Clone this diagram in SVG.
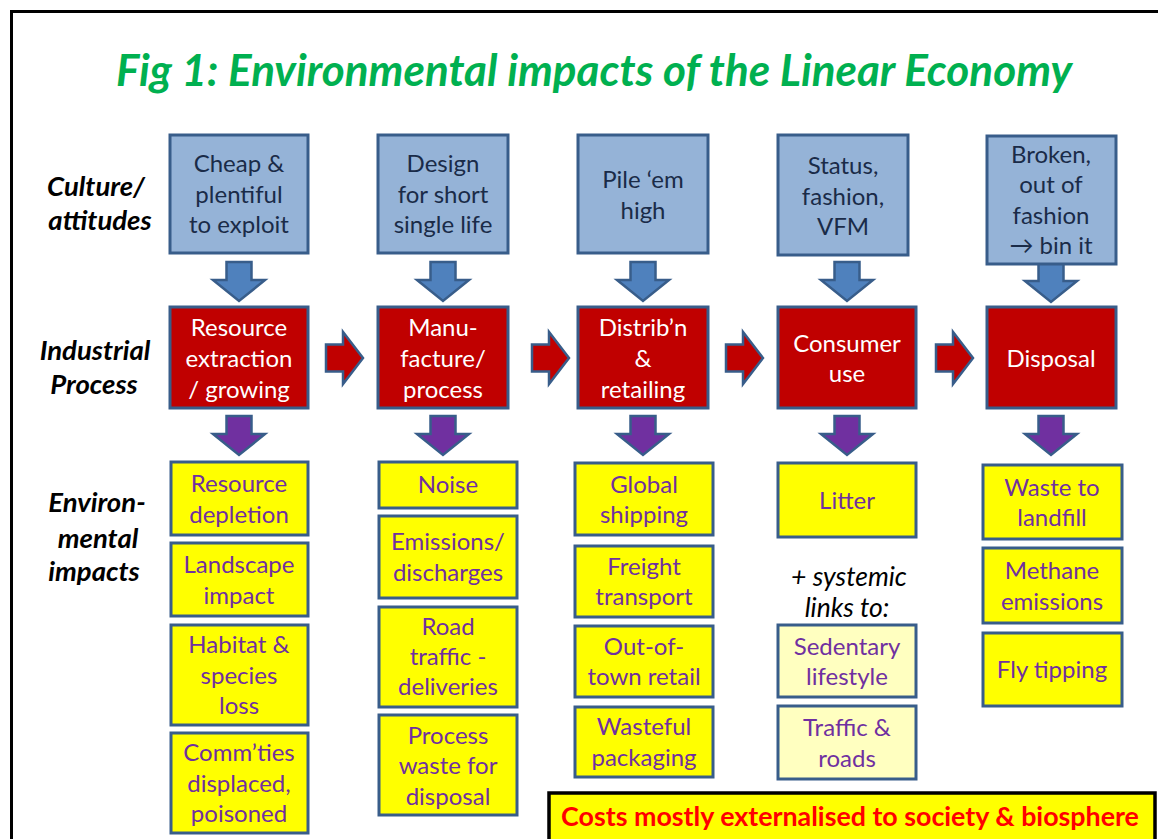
<svg xmlns="http://www.w3.org/2000/svg" width="1158" height="839" viewBox="0 0 1158 839">
<style>
text{font-family:Lato,"Liberation Sans",sans-serif;font-size:24px;text-anchor:middle}
.cul rect{fill:#95B3D7;stroke:#385D8A;stroke-width:3}
.cul text{fill:#1A2B48}
.ind rect{fill:#C00000;stroke:#385D8A;stroke-width:3}
.ind text{fill:#FFFFFF}
.env rect{fill:#FFFF00;stroke:#385D8A;stroke-width:3}
.env text{fill:#7030A0}
.env rect.lt{fill:#FFFFC0}
.lbl{font-weight:bold;font-style:italic;fill:#000;font-size:27.5px}
.ab{fill:#4F81BD;stroke:#385D8A;stroke-width:2.5;stroke-linejoin:miter}
.ap{fill:#7030A0;stroke:#385D8A;stroke-width:2.5}
.ar{fill:#C00000;stroke:#385D8A;stroke-width:2.5}
</style>
<defs>
<path id="down" d="M-12.5,0 H12.5 V18 H26 L0,39 L-26,18 H-12.5 Z"/>
<path id="right" d="M0,-13.5 H17 V-26 L37,0 L17,26 V13.5 H0 Z"/>
</defs>
<rect x="0" y="0" width="1158" height="839" fill="#FFFFFF"/>
<rect x="11.5" y="11.5" width="1160" height="840" fill="none" stroke="#000" stroke-width="3"/>
<text x="594" y="86" style="font-size:44px;font-weight:bold;font-style:italic;fill:#00B050">Fig 1: Environmental impacts of the Linear Economy</text>

<g id="row-labels">
<text class="lbl" x="96" y="196">Culture/</text>
<text class="lbl" x="100" y="230">attitudes</text>
<text class="lbl" x="95" y="360">Industrial</text>
<text class="lbl" x="94" y="394">Process</text>
<text class="lbl" x="97" y="512">Environ-</text>
<text class="lbl" x="98" y="548">mental</text>
<text class="lbl" x="94" y="581">impacts</text>
</g>

<g id="connectors">
<use href="#down" class="ab" x="239" y="262"/>
<use href="#down" class="ab" x="443" y="262"/>
<use href="#down" class="ab" x="643" y="262"/>
<use href="#down" class="ab" x="847" y="262"/>
<use href="#down" class="ab" x="1051" y="263"/>
<use href="#right" class="ar" x="326" y="358"/>
<use href="#right" class="ar" x="532" y="358"/>
<use href="#right" class="ar" x="726" y="358"/>
<use href="#right" class="ar" x="936" y="358"/>
<use href="#down" class="ap" x="239" y="416"/>
<use href="#down" class="ap" x="443" y="416"/>
<use href="#down" class="ap" x="643" y="416"/>
<use href="#down" class="ap" x="847" y="416"/>
<use href="#down" class="ap" x="1051" y="416"/>
</g>

<g id="culture-1" class="cul"><rect x="170" y="135" width="138" height="118"/><text x="239" y="172">Cheap &amp;</text><text x="239" y="203">plentiful</text><text x="239" y="233">to exploit</text></g>
<g id="culture-2" class="cul"><rect x="378" y="135" width="130" height="118"/><text x="443" y="172">Design</text><text x="443" y="203">for short</text><text x="443" y="233">single life</text></g>
<g id="culture-3" class="cul"><rect x="578" y="135" width="130" height="118"/><text x="643" y="188">Pile ‘em</text><text x="643" y="219">high</text></g>
<g id="culture-4" class="cul"><rect x="778" y="135" width="130" height="120"/><text x="843" y="174">Status,</text><text x="843" y="205">fashion,</text><text x="843" y="235">VFM</text></g>
<g id="culture-5" class="cul"><rect x="987" y="136" width="129" height="128"/><text x="1051" y="163">Broken,</text><text x="1051" y="193">out of</text><text x="1051" y="224">fashion</text><text x="1051" y="254">→ bin it</text></g>

<g id="process-1" class="ind"><rect x="170" y="307" width="138" height="101"/><text x="239" y="336">Resource</text><text x="239" y="367">extraction</text><text x="239" y="398">/ growing</text></g>
<g id="process-2" class="ind"><rect x="378" y="307" width="130" height="101"/><text x="443" y="336">Manu-</text><text x="443" y="367">facture/</text><text x="443" y="398">process</text></g>
<g id="process-3" class="ind"><rect x="578" y="307" width="130" height="101"/><text x="643" y="336">Distrib’n</text><text x="643" y="367">&amp;</text><text x="643" y="398">retailing</text></g>
<g id="process-4" class="ind"><rect x="778" y="307" width="138" height="101"/><text x="847" y="352">Consumer</text><text x="847" y="382">use</text></g>
<g id="process-5" class="ind"><rect x="987" y="307" width="129" height="101"/><text x="1051" y="367">Disposal</text></g>

<g id="env-1a" class="env"><rect x="171" y="462" width="137" height="73"/><text x="239" y="492">Resource</text><text x="239" y="523">depletion</text></g>
<g id="env-1b" class="env"><rect x="171" y="543" width="137" height="73"/><text x="239" y="573">Landscape</text><text x="239" y="604">impact</text></g>
<g id="env-1c" class="env"><rect x="171" y="625" width="137" height="100"/><text x="239" y="653">Habitat &amp;</text><text x="239" y="684">species</text><text x="239" y="714">loss</text></g>
<g id="env-1d" class="env"><rect x="171" y="733" width="137" height="100"/><text x="239" y="761">Comm’ties</text><text x="239" y="792">displaced,</text><text x="239" y="822">poisoned</text></g>

<g id="env-2a" class="env"><rect x="379" y="462" width="138" height="46"/><text x="448" y="493">Noise</text></g>
<g id="env-2b" class="env"><rect x="379" y="516" width="138" height="82"/><text x="448" y="550">Emissions/</text><text x="448" y="581">discharges</text></g>
<g id="env-2c" class="env"><rect x="379" y="607" width="138" height="100"/><text x="448" y="635">Road</text><text x="448" y="665">traffic -</text><text x="448" y="695">deliveries</text></g>
<g id="env-2d" class="env"><rect x="379" y="715" width="138" height="100"/><text x="448" y="744">Process</text><text x="448" y="774">waste for</text><text x="448" y="805">disposal</text></g>

<g id="env-3a" class="env"><rect x="575" y="463" width="138" height="72"/><text x="644" y="493">Global</text><text x="644" y="523">shipping</text></g>
<g id="env-3b" class="env"><rect x="575" y="546" width="138" height="71"/><text x="644" y="575">Freight</text><text x="644" y="605">transport</text></g>
<g id="env-3c" class="env"><rect x="575" y="626" width="138" height="71"/><text x="644" y="655">Out-of-</text><text x="644" y="685">town retail</text></g>
<g id="env-3d" class="env"><rect x="575" y="707" width="138" height="70"/><text x="644" y="735">Wasteful</text><text x="644" y="766">packaging</text></g>

<g id="env-4a" class="env"><rect x="778" y="463" width="138" height="74"/><text x="847" y="509">Litter</text></g>
<g id="systemic-note"><text x="849" y="586" style="font-style:italic;fill:#000;font-size:26.5px">+ systemic</text><text x="847" y="617" style="font-style:italic;fill:#000;font-size:26.5px">links to:</text></g>
<g id="env-4b" class="env"><rect class="lt" x="778" y="625" width="138" height="72"/><text x="847" y="655">Sedentary</text><text x="847" y="685">lifestyle</text></g>
<g id="env-4c" class="env"><rect class="lt" x="778" y="706" width="138" height="73"/><text x="847" y="736">Traffic &amp;</text><text x="847" y="767">roads</text></g>

<g id="env-5a" class="env"><rect x="983" y="465" width="139" height="74"/><text x="1052" y="496">Waste to</text><text x="1052" y="526">landfill</text></g>
<g id="env-5b" class="env"><rect x="983" y="548" width="139" height="75"/><text x="1052" y="579">Methane</text><text x="1052" y="610">emissions</text></g>
<g id="env-5c" class="env"><rect x="983" y="633" width="139" height="73"/><text x="1052" y="678">Fly tipping</text></g>

<g id="costs"><rect x="549" y="793" width="606" height="60" fill="#FFFF00" stroke="#000" stroke-width="3.5"/><text x="850" y="826" style="font-weight:bold;fill:#FF0000;font-size:26.8px">Costs mostly externalised to society &amp; biosphere</text></g>
</svg>
